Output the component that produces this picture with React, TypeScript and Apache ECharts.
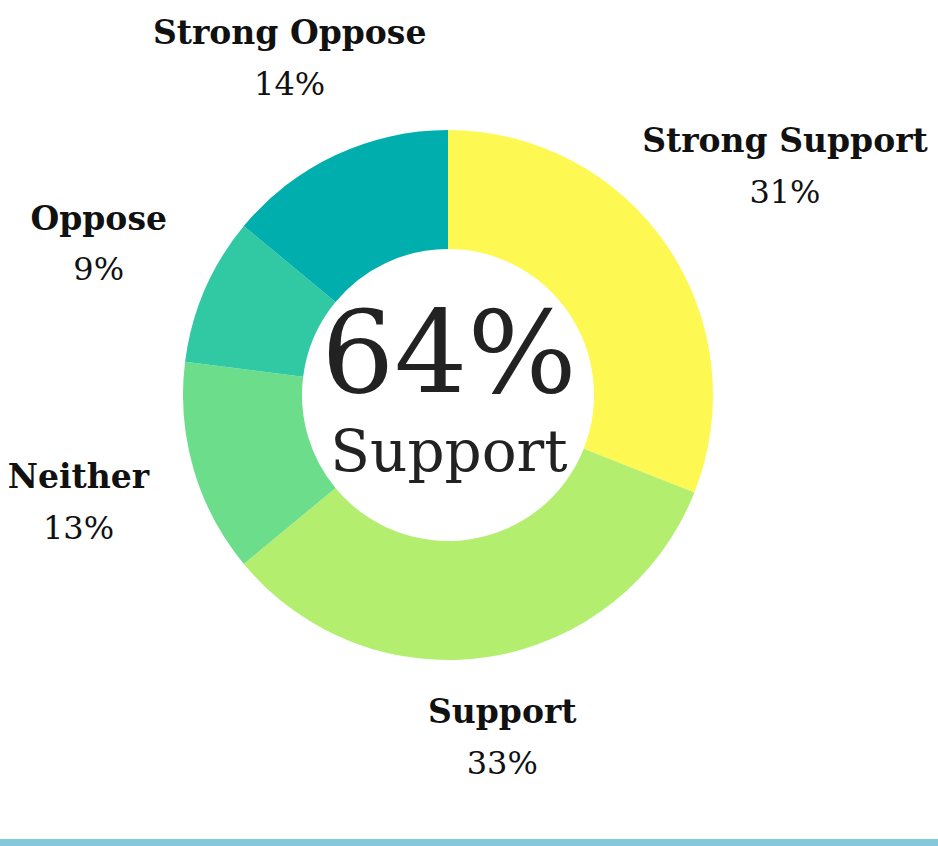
import React, { useEffect, useRef } from "react";
import * as echarts from "echarts";

const categories = ["Strong Support", "Support", "Neither", "Oppose", "Strong Oppose"];
const values = [31, 33, 13, 9, 14];
const colors = ["#FEF853", "#B4EE6F", "#6CDD8A", "#30C9A3", "#00AFAD"];
const centerValue = "64%";
const centerLabel = "Support";

const W = 938;
const H = 846;
const CX = 448;
const CY = 395;
const R_IN = 146;
const R_OUT = 265;
const FONT = "'DejaVu Serif', 'Liberation Serif', serif";

export default function App() {
  const ref = useRef<HTMLDivElement>(null);

  useEffect(() => {
    if (!ref.current) return;
    const chart = echarts.init(ref.current, null, { renderer: "svg" });
    const total = values.reduce((a, b) => a + b, 0);
    const cum: number[] = [];
    values.reduce((acc, v, i) => {
      cum[i] = acc;
      return acc + v;
    }, 0);

    chart.setOption({
      animation: false,
      backgroundColor: "#ffffff",
      series: [
        {
          type: "pie",
          center: [CX, CY],
          radius: [R_IN, R_OUT],
          startAngle: 90,
          clockwise: true,
          avoidLabelOverlap: false,
          silent: true,
          itemStyle: { borderWidth: 0 },
          labelLine: { show: false },
          label: {
            show: true,
            position: "outside",
            align: "center",
            formatter: "{n|{b}}\n{p|{c}%}",
            rich: {
              n: {
                fontFamily: FONT,
                fontWeight: "bold",
                fontSize: 33,
                lineHeight: 51,
                color: "#111111",
                align: "center",
              },
              p: {
                fontFamily: FONT,
                fontSize: 32,
                lineHeight: 51,
                color: "#111111",
                align: "center",
              },
            },
          },
          labelLayout: (params: any) => {
            const i = params.dataIndex;
            const mid = ((cum[i] + values[i] / 2) / total) * Math.PI * 2;
            const vx = Math.sin(mid);
            const vy = -Math.cos(mid);
            const sx = (Math.abs(vx) * params.labelRect.width) / 2;
            const sy = (Math.abs(vy) * params.labelRect.height) / 2;
            const r = 353 + 0.52 * sx - 0.3 * sy;
            return {
              x: CX + vx * r,
              y: CY + vy * r,
              align: "center",
              verticalAlign: "middle",
            };
          },
          data: categories.map((name, i) => ({
            name,
            value: values[i],
            itemStyle: { color: colors[i] },
          })),
        },
      ],
      graphic: [
        {
          type: "text",
          x: CX + 1,
          y: 352,
          style: {
            text: centerValue,
            fontFamily: FONT,
            fontSize: 115,
            fill: "#222222",
            align: "center",
            verticalAlign: "middle",
          },
        },
        {
          type: "text",
          x: CX + 1,
          y: 451,
          style: {
            text: centerLabel,
            fontFamily: FONT,
            fontSize: 58,
            fill: "#222222",
            align: "center",
            verticalAlign: "middle",
          },
        },
        {
          type: "rect",
          shape: { x: 0, y: 839, width: W, height: 7 },
          style: { fill: "#85C8D9" },
        },
      ],
    });

    return () => chart.dispose();
  }, []);

  return (
    <div
      ref={ref}
      style={{ position: "fixed", left: 0, top: 0, width: W, height: H, background: "#fff" }}
    />
  );
}
